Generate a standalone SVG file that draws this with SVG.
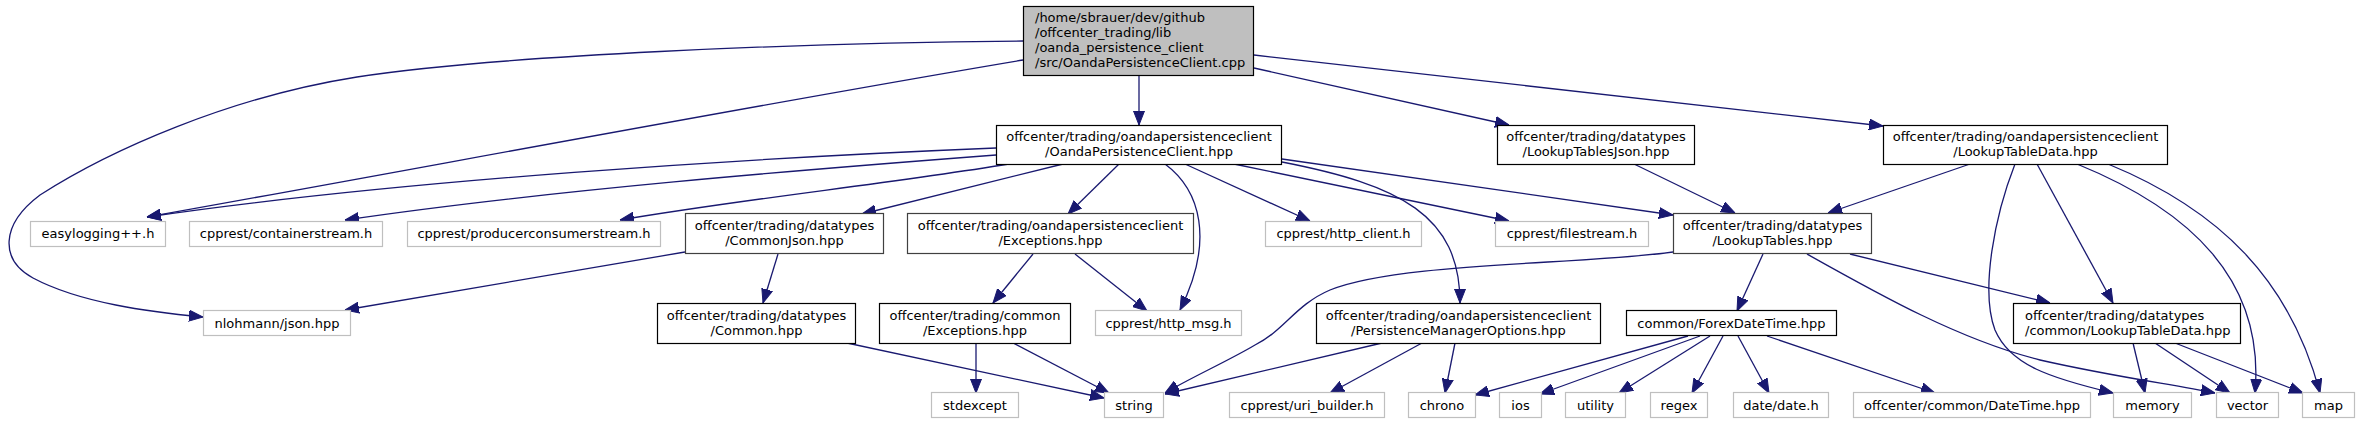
<svg xmlns="http://www.w3.org/2000/svg" width="2359" height="424" viewBox="0 0 2359 424">
<defs>
<style>
rect{fill:#fff;stroke-width:1.2}
.n rect{stroke:#000}
.d rect{stroke:#404040}
.g rect{stroke:#bfbfbf}
.r rect{fill:#bfbfbf;stroke:#000}
text{font-family:"DejaVu Sans","Liberation Sans",sans-serif;font-size:13px;fill:#000}
.c text{text-anchor:middle}
#edges path{fill:none;stroke:#191970;stroke-width:1.3;marker-end:url(#ah)}
</style>
<marker id="ah" markerUnits="userSpaceOnUse" markerWidth="14" markerHeight="12" viewBox="0 0 14 12" refX="14" refY="6" orient="auto">
<path d="M0,0.5 L14,6 L0,11.5 z" fill="#191970" stroke="#191970" stroke-width="1"/>
</marker>
</defs>
<rect x="0" y="0" width="2359" height="424" style="fill:#fff;stroke:none"/>
<g id="edges">
<path d="M1023,41 C800,43 500,55 357,77 C230,97 110,150 40,195 C0,225 0,260 33,278 C80,303 150,312 203,317"/>
<path d="M1023,60 C760,104 400,172 147,217"/>
<path d="M1139,75 L1139,125"/>
<path d="M1254,68 L1509,125"/>
<path d="M1254,55 L1883,126"/>
<path d="M996,148 C750,158 400,180 147,217"/>
<path d="M996,155 C800,170 550,190 345,220"/>
<path d="M1009,164 C880,185 750,198 620,220"/>
<path d="M1063,164 L862,214"/>
<path d="M1119,164 L1068,214"/>
<path d="M1165,164 C1200,190 1215,240 1180,310"/>
<path d="M1185,164 L1310,221"/>
<path d="M1234,164 L1509,221"/>
<path d="M1282,162 C1400,185 1460,215 1460,303"/>
<path d="M1282,159 L1673,215"/>
<path d="M1634,164 L1735,213"/>
<path d="M1970,164 L1828,213"/>
<path d="M2015,164 C1995,215 1980,290 1995,330 C2010,365 2050,378 2113,393"/>
<path d="M2037,164 L2113,303"/>
<path d="M2077,164 C2190,210 2265,280 2255,393"/>
<path d="M2108,164 C2220,210 2290,280 2320,393"/>
<path d="M685,252 L345,310"/>
<path d="M778,254 L763,303"/>
<path d="M847,343 L1104,398"/>
<path d="M1033,254 L993,303"/>
<path d="M1075,254 L1147,311"/>
<path d="M976,343 L976,393"/>
<path d="M1013,343 L1109,393"/>
<path d="M1382,343 L1165,394"/>
<path d="M1422,343 L1330,393"/>
<path d="M1455,343 L1445,393"/>
<path d="M1673,252 C1580,265 1400,262 1330,290 C1295,305 1285,330 1255,345 C1230,360 1190,378 1165,393"/>
<path d="M1763,254 L1737,311"/>
<path d="M1850,254 L2050,303"/>
<path d="M1807,254 C1880,295 1960,340 2040,360 C2110,376 2170,384 2215,393"/>
<path d="M1688,336 L1475,395"/>
<path d="M1700,336 L1540,394"/>
<path d="M1710,336 L1619,393"/>
<path d="M1723,336 L1692,393"/>
<path d="M1738,336 L1769,393"/>
<path d="M1767,336 L1935,393"/>
<path d="M2133,343 L2145,393"/>
<path d="M2155,343 L2230,393"/>
<path d="M2175,343 L2303,393"/>
</g>
<g id="main" class="r"><rect x="1023.5" y="6.5" width="230" height="69"/><text x="1035" y="22">/home/sbrauer/dev/github</text><text x="1035" y="37">/offcenter_trading/lib</text><text x="1035" y="52">/oanda_persistence_client</text><text x="1035" y="67">/src/OandaPersistenceClient.cpp</text></g>
<g id="opc_hpp" class="n c"><rect x="996.5" y="125.5" width="285" height="39"/><text x="1139" y="141">offcenter/trading/oandapersistenceclient</text><text x="1139" y="156">/OandaPersistenceClient.hpp</text></g>
<g id="lookuptablesjson" class="n c"><rect x="1497.5" y="125.5" width="197" height="39"/><text x="1596" y="141">offcenter/trading/datatypes</text><text x="1596" y="156">/LookupTablesJson.hpp</text></g>
<g id="opc_lookuptabledata" class="n c"><rect x="1883.5" y="125.5" width="284" height="39"/><text x="2025.5" y="141">offcenter/trading/oandapersistenceclient</text><text x="2025.5" y="156">/LookupTableData.hpp</text></g>
<g id="easylogging" class="g c"><rect x="30.5" y="221.5" width="135" height="25"/><text x="98" y="238">easylogging++.h</text></g>
<g id="containerstream" class="g c"><rect x="189.5" y="221.5" width="193" height="25"/><text x="286" y="238">cpprest/containerstream.h</text></g>
<g id="producerconsumerstream" class="g c"><rect x="407.5" y="221.5" width="253" height="25"/><text x="534" y="238">cpprest/producerconsumerstream.h</text></g>
<g id="commonjson" class="d c"><rect x="685.5" y="213.5" width="198" height="40"/><text x="784.5" y="230">offcenter/trading/datatypes</text><text x="784.5" y="245">/CommonJson.hpp</text></g>
<g id="opc_exceptions" class="d c"><rect x="907.5" y="213.5" width="286" height="40"/><text x="1050.5" y="230">offcenter/trading/oandapersistenceclient</text><text x="1050.5" y="245">/Exceptions.hpp</text></g>
<g id="http_client" class="g c"><rect x="1265.5" y="221.5" width="156" height="25"/><text x="1343.5" y="238">cpprest/http_client.h</text></g>
<g id="filestream" class="g c"><rect x="1495.5" y="221.5" width="153" height="25"/><text x="1572" y="238">cpprest/filestream.h</text></g>
<g id="lookuptables" class="d c"><rect x="1673.5" y="213.5" width="198" height="40"/><text x="1772.5" y="230">offcenter/trading/datatypes</text><text x="1772.5" y="245">/LookupTables.hpp</text></g>
<g id="nlohmann" class="g c"><rect x="203.5" y="310.5" width="147" height="25"/><text x="277" y="327.5">nlohmann/json.hpp</text></g>
<g id="common_hpp" class="n c"><rect x="657.5" y="303.5" width="198" height="40"/><text x="756.5" y="320">offcenter/trading/datatypes</text><text x="756.5" y="335">/Common.hpp</text></g>
<g id="common_exceptions" class="n c"><rect x="879.5" y="303.5" width="191" height="40"/><text x="975" y="320">offcenter/trading/common</text><text x="975" y="335">/Exceptions.hpp</text></g>
<g id="http_msg" class="g c"><rect x="1095.5" y="310.5" width="146" height="25"/><text x="1168.5" y="327.5">cpprest/http_msg.h</text></g>
<g id="pmo" class="n c"><rect x="1316.5" y="303.5" width="284" height="40"/><text x="1458.5" y="320">offcenter/trading/oandapersistenceclient</text><text x="1458.5" y="335">/PersistenceManagerOptions.hpp</text></g>
<g id="forexdatetime" class="n c"><rect x="1626.5" y="310.5" width="210" height="25"/><text x="1731.5" y="327.5">common/ForexDateTime.hpp</text></g>
<g id="common_lookuptabledata" class="n"><rect x="2013.5" y="303.5" width="227" height="40"/><text x="2025" y="320">offcenter/trading/datatypes</text><text x="2025" y="335">/common/LookupTableData.hpp</text></g>
<g id="stdexcept" class="g c"><rect x="931.5" y="392.5" width="87" height="25"/><text x="975" y="409.5">stdexcept</text></g>
<g id="string" class="g c"><rect x="1104.5" y="392.5" width="59" height="25"/><text x="1134" y="409.5">string</text></g>
<g id="uri_builder" class="g c"><rect x="1229.5" y="392.5" width="155" height="25"/><text x="1307" y="409.5">cpprest/uri_builder.h</text></g>
<g id="chrono" class="g c"><rect x="1408.5" y="392.5" width="67" height="25"/><text x="1442" y="409.5">chrono</text></g>
<g id="ios" class="g c"><rect x="1499.5" y="392.5" width="42" height="25"/><text x="1520.5" y="409.5">ios</text></g>
<g id="utility" class="g c"><rect x="1565.5" y="392.5" width="60" height="25"/><text x="1595.5" y="409.5">utility</text></g>
<g id="regex" class="g c"><rect x="1650.5" y="392.5" width="57" height="25"/><text x="1679" y="409.5">regex</text></g>
<g id="date" class="g c"><rect x="1733.5" y="392.5" width="95" height="25"/><text x="1781" y="409.5">date/date.h</text></g>
<g id="datetime" class="g c"><rect x="1853.5" y="392.5" width="237" height="25"/><text x="1972" y="409.5">offcenter/common/DateTime.hpp</text></g>
<g id="memory" class="g c"><rect x="2113.5" y="392.5" width="78" height="25"/><text x="2152.5" y="409.5">memory</text></g>
<g id="vector" class="g c"><rect x="2216.5" y="392.5" width="62" height="25"/><text x="2247.5" y="409.5">vector</text></g>
<g id="map" class="g c"><rect x="2302.5" y="392.5" width="52" height="25"/><text x="2328.5" y="409.5">map</text></g>
</svg>
